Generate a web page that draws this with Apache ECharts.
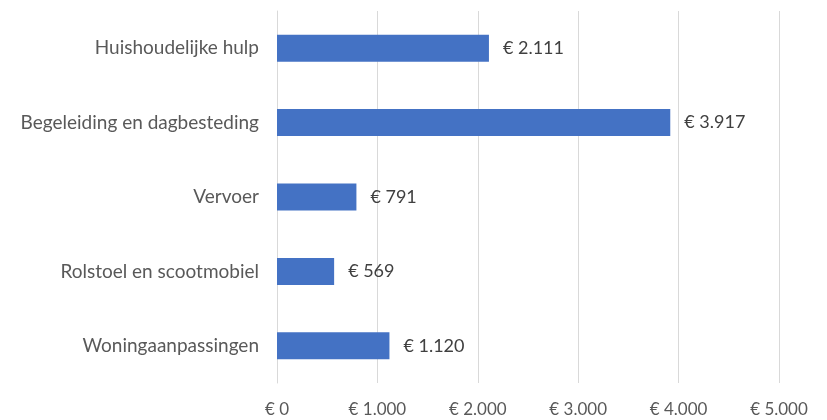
<!DOCTYPE html>
<html>
<head>
<meta charset="UTF-8">
<script src="https://cdn.jsdelivr.net/npm/echarts@6/dist/echarts.min.js"></script>
<style>
  html, body { margin: 0; padding: 0; background: #fff; }
  #chart { width: 827px; height: 420px; }
</style>
</head>
<body>
<div id="chart"></div>
<script>
var categories = ['Huishoudelijke hulp', 'Begeleiding en dagbesteding', 'Vervoer', 'Rolstoel en scootmobiel', 'Woningaanpassingen'];
var values = [2111, 3917, 791, 569, 1120];

function euro(v) {
    // Dutch thousands separator
    return '€ ' + String(v).replace(/\B(?=(\d{3})+(?!\d))/g, '.');
}

var chart = echarts.init(document.getElementById('chart'));
chart.setOption({
    backgroundColor: '#ffffff',
    animation: false,
    textStyle: { fontFamily: 'Lato' },
    grid: { left: 277, right: 48, top: 11, bottom: 37 },
    xAxis: {
        type: 'value',
        min: 0,
        max: 5000,
        interval: 1000,
        axisLine: { show: false },
        axisTick: { show: false },
        axisLabel: { color: '#595959', fontSize: 17, margin: 18, formatter: euro },
        splitLine: { lineStyle: { color: '#d9d9d9', width: 1 } }
    },
    yAxis: {
        type: 'category',
        inverse: true,
        data: categories,
        axisLine: { show: true, lineStyle: { color: '#d9d9d9' } },
        axisTick: { show: false },
        axisLabel: { color: '#595959', fontSize: 19, margin: 18 }
    },
    series: [{
        type: 'bar',
        data: values,
        barWidth: 27,
        itemStyle: { color: '#4472C4' },
        label: {
            show: true,
            position: 'right',
            distance: 14,
            color: '#404040',
            fontSize: 18,
            formatter: function (p) { return euro(p.value); }
        }
    }]
});
</script>
</body>
</html>
